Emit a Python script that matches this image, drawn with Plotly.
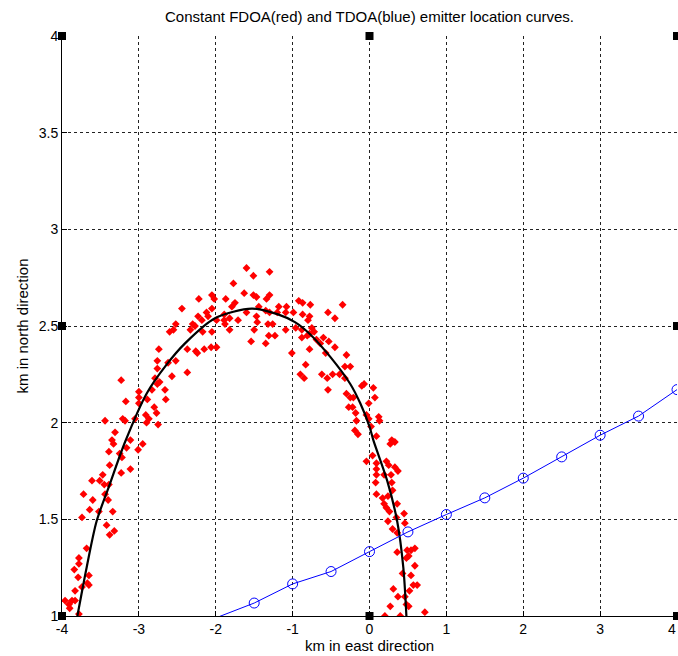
import plotly.graph_objects as go

# ---- data ----
title_text = "Constant FDOA(red) and TDOA(blue) emitter location curves."
x_label = "km in east direction"
y_label = "km in north direction"

x_ticks = [-4, -3, -2, -1, 0, 1, 2, 3, 4]
x_tick_text = ["-4", "-3", "-2", "-1", "0", "1", "2", "3", ""]   # last label drawn as annotation below
x_last_label = "4"
y_ticks = [1, 1.5, 2, 2.5, 3, 3.5, 4]
y_tick_text = ["1", "1.5", "2", "2.5", "3", "3.5", "4"]

# noisy FDOA measurements (red)
fdoa_x = [
    -2.44, -2.52, -2.55, -2.60, -2.74, -2.76, -2.52, -2.62, -2.76, -2.57, -2.79, -2.73, -2.76, -3.23,
    -2.83, -2.66, -3.00, -2.65, -3.00, -3.17, -2.89, -3.00, -2.80, -2.77, -2.91, -2.87, -3.21, -3.18,
    -3.05, -3.44, -2.90, -2.75, -3.31, -3.35, -3.11,
    -3.33, -2.95, -3.39, -3.25, -3.22, -3.16, -3.01, -3.38, -3.47, -3.23, -3.11, -3.61, -3.51, -3.45,
    -3.39, -3.72, -3.44, -3.60, -3.40, -3.64, -3.52, -3.34, -3.74, -3.42, -3.32, -3.38, -3.68, -3.78,
    -3.78, -3.84, -3.65, -3.79, -3.67, -3.65, -3.74, -3.83, -3.96, -3.91, -3.87, -3.90, -3.83, -3.78,
    -1.60, -1.51, -1.30, -1.77, -1.63, -1.51, -1.47, -1.30, -1.34, -2.05, -2.02, -2.22, -1.87, -1.75,
    -1.79, -2.05, -2.12, -2.10, -2.23, -2.18, -2.30, -2.33, -2.27, -2.17, -2.05, -1.99, -1.89, -1.89,
    -1.82, -1.82, -1.88, -1.71, -1.60, -1.47, -1.46, -1.50, -1.44, -1.35, -1.30, -1.18, -1.08, -1.20,
    -1.09, -0.99, -0.92, -0.87, -0.87, -1.32, -1.26, -1.09, -0.96, -0.88, -0.80, -1.54, -1.31, -1.23,
    -1.35, -0.88, -0.81, -2.37, -2.26, -2.24, -2.15, -2.06, -1.99, -2.37, -1.01, -0.83, -0.90, -0.85,
    -0.77, -0.35, -0.54, -0.45, -0.78, -0.75, -0.72, -0.78, -0.60, -0.53, -0.69, -0.64, -0.78, -0.57,
    -0.45, -0.30, -0.32, -0.25, -0.62, -0.55, -0.48, -0.39, -0.32, -0.54, -0.10, -0.07, 0.05, -0.30,
    -0.25, -0.21, 0.07, -0.01, -0.27, -0.22, -0.18, -0.04, -0.01, 0.12, 0.13, -0.17, -0.19, -0.15,
    0.02, 0.09, 0.29,
    0.27, 0.33, 0.04, -0.04, 0.09, 0.22, 0.25, 0.09, 0.33, 0.37, 0.09, 0.19, 0.28, 0.08, 0.29, 0.30,
    0.09, 0.17, 0.24, 0.36, 0.19, 0.22, 0.26, 0.45, 0.24, 0.35, 0.46, 0.30, 0.36, 0.54, 0.49, 0.59,
    0.36, 0.51, 0.48, 0.59, 0.43, 0.54, 0.62, 0.57, 0.31, 0.52, 0.37, 0.46, 0.48, 0.27, 0.51, 0.72,
    0.20, 0.40,
]
fdoa_y = [
    2.59, 2.51, 2.48, 2.47, 2.38, 2.32, 2.32, 2.31, 2.28, 2.24, 2.23, 2.21, 2.20, 2.22,
    2.17, 2.17, 2.16, 2.12, 2.13, 2.11, 2.12, 2.10, 2.08, 2.05, 2.04, 2.02, 2.02, 2.01,
    2.02, 2.01, 2.00, 1.99, 1.95, 1.91, 1.91,
    1.89, 1.89, 1.85, 1.84, 1.82, 1.87, 1.86, 1.78, 1.73, 1.74, 1.76, 1.70, 1.70, 1.68,
    1.68, 1.63, 1.63, 1.60, 1.60, 1.55, 1.54, 1.54, 1.51, 1.47, 1.44, 1.42, 1.35, 1.30,
    1.27, 1.24, 1.21, 1.20, 1.17, 1.16, 1.15, 1.13, 1.08, 1.06, 1.08, 1.04, 1.08, 1.01,
    2.80, 2.76, 2.78, 2.72, 2.67, 2.66, 2.65, 2.66, 2.64, 2.66, 2.64, 2.64, 2.64, 2.62,
    2.60, 2.59, 2.57, 2.55, 2.55, 2.53, 2.51, 2.48, 2.50, 2.47, 2.47, 2.53, 2.56, 2.53,
    2.54, 2.48, 2.51, 2.53, 2.57, 2.55, 2.52, 2.48, 2.60, 2.58, 2.57, 2.60, 2.60, 2.57,
    2.57, 2.57, 2.63, 2.62, 2.56, 2.51, 2.51, 2.48, 2.49, 2.48, 2.53, 2.42, 2.45, 2.45,
    2.41, 2.44, 2.45, 2.38, 2.37, 2.36, 2.38, 2.39, 2.39, 2.26, 2.36, 2.30, 2.25, 2.23,
    2.61, 2.61, 2.57, 2.54, 2.55, 2.49, 2.47, 2.46, 2.44, 2.42, 2.43, 2.41, 2.38, 2.36,
    2.39, 2.35, 2.29, 2.29, 2.25, 2.23, 2.25, 2.25, 2.23, 2.17, 2.19, 2.20, 2.18, 2.15,
    2.13, 2.13, 2.13, 2.10, 2.08, 2.08, 2.05, 2.04, 2.02, 2.03, 2.01, 2.01, 1.96, 1.94,
    1.98, 1.93, 1.91,
    1.89, 1.90, 1.83, 1.80, 1.79, 1.80, 1.78, 1.76, 1.77, 1.75, 1.73, 1.73, 1.73, 1.69, 1.69, 1.65,
    1.63, 1.61, 1.62, 1.58, 1.58, 1.56, 1.54, 1.53, 1.49, 1.51, 1.48, 1.45, 1.43, 1.34, 1.34, 1.35,
    1.33, 1.31, 1.30, 1.26, 1.22, 1.21, 1.16, 1.16, 1.14, 1.13, 1.10, 1.10, 1.06, 1.05, 1.05, 1.02,
    1.00, 1.00,
]

# constant FDOA curve (black)
curve_x = [-3.80, -3.68, -3.55, -3.38, -3.18, -2.90, -2.64, -2.40, -2.01, -1.53, -1.19,
           -0.97, -0.78, -0.51, -0.25, -0.12, 0.00, 0.05, 0.23, 0.36, 0.44, 0.48]
curve_y = [1.00, 1.25, 1.49, 1.68, 1.90, 2.15, 2.30, 2.41, 2.54, 2.59, 2.56,
           2.52, 2.46, 2.34, 2.20, 2.10, 1.98, 1.91, 1.70, 1.49, 1.25, 1.00]

# constant TDOA curve (blue)
tdoa_x = [-2.0, -1.5, -1.0, -0.5, 0.0, 0.5, 1.0, 1.5, 2.0, 2.5, 3.0, 3.5, 4.0]
tdoa_y = [0.99, 1.067, 1.166, 1.230, 1.333, 1.435, 1.525, 1.611, 1.713, 1.823, 1.935, 2.034, 2.171]

# sensor / reference markers (black squares)
sensor_x = [-4, 0, 4, -4, 4, -4, 0, 4]
sensor_y = [4, 4, 4, 2.5, 2.5, 1, 1, 1]

FONT = "Liberation Sans, Arial, sans-serif"

fig = go.Figure()
fig.add_trace(go.Scatter(
    x=fdoa_x, y=fdoa_y, mode="markers",
    marker=dict(symbol="diamond", size=6, color="#ff0000", line=dict(width=0)),
    showlegend=False, hoverinfo="skip",
))
fig.add_trace(go.Scatter(
    x=curve_x, y=curve_y, mode="lines",
    line=dict(color="black", width=2.2, shape="spline", smoothing=0.8),
    showlegend=False,
))
fig.add_trace(go.Scatter(
    x=tdoa_x, y=tdoa_y, mode="lines+markers",
    line=dict(color="#0000ff", width=1),
    marker=dict(symbol="circle-open", size=10, color="#0000ff", line=dict(width=1)),
    showlegend=False,
))
fig.add_trace(go.Scatter(
    x=sensor_x, y=sensor_y, mode="markers",
    marker=dict(symbol="square", size=8, color="black"),
    cliponaxis=False, showlegend=False,
))

axis_common = dict(
    showgrid=True, gridcolor="#222222", gridwidth=1, griddash="3px,3px",
    zeroline=False, showline=True, linecolor="black", linewidth=1,
    ticks="inside", ticklen=5, tickcolor="black",
    tickfont=dict(family=FONT, size=14, color="black"),
    ticklabeloverflow="allow", automargin=False,
    mirror=False,
)

fig.update_layout(
    width=678, height=656,
    margin=dict(l=62, r=1, t=36, b=40, autoexpand=False),
    paper_bgcolor="white", plot_bgcolor="white",
    font=dict(family=FONT, size=14, color="black"),
    title=dict(text=title_text, x=0.545, xanchor="center", y=0.975, yanchor="middle",
               font=dict(family=FONT, size=15, color="black")),
    xaxis=dict(range=[-4, 4], tickvals=x_ticks, ticktext=x_tick_text,
               title=dict(text=x_label, standoff=2, font=dict(family=FONT, size=15)),
               **axis_common),
    yaxis=dict(range=[1, 4], tickvals=y_ticks, ticktext=y_tick_text,
               title=dict(text=y_label, standoff=6, font=dict(family=FONT, size=15)),
               **axis_common),
    annotations=[dict(
        text=x_last_label, xref="paper", yref="paper", x=1, y=0,
        xanchor="right", yanchor="middle", yshift=-13, xshift=1, showarrow=False,
        font=dict(family=FONT, size=14, color="black"),
    )],
)

fig.write_html("out.html")
